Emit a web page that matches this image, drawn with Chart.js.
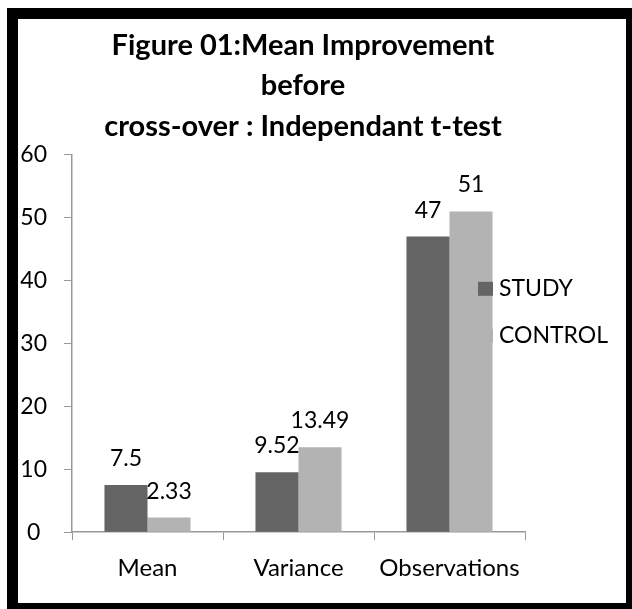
<!DOCTYPE html>
<html>
<head>
<meta charset="utf-8">
<script src="https://cdn.jsdelivr.net/npm/chart.js@4.4.0/dist/chart.umd.min.js"></script>
<style>
    html, body { margin: 0; padding: 0; background: #fff; overflow: hidden; }
    #frame {
        position: absolute; left: 7px; top: 8px;
        width: 608px; height: 584px;
        border: 11px solid #000;
        background: #fff;
    }
    #wrap { position: relative; width: 608px; height: 584px; }
</style>
</head>
<body>
<div id="frame"><div id="wrap"><canvas id="chart"></canvas></div></div>
<script>
// Chart data
const categories = ['Mean', 'Variance', 'Observations'];
const seriesNames = ['STUDY', 'CONTROL'];
const studyValues = [7.5, 9.52, 47];
const controlValues = [2.33, 13.49, 51];
const valueLabels = [['7.5', '9.52', '47'], ['2.33', '13.49', '51']];
const titleLines = ['Figure 01:Mean Improvement', 'before', 'cross-over : Independant t-test'];

const seriesColors = ['#646464', '#b3b3b3'];
const axisColor = '#999999';
const fontFamily = 'Lato, "Liberation Sans", sans-serif';

// Value labels above each bar
const valueLabelPlugin = {
    id: 'valueLabels',
    afterDatasetsDraw(chart) {
        const ctx = chart.ctx;
        ctx.save();
        ctx.font = '23px ' + fontFamily;
        ctx.fillStyle = '#000';
        ctx.textAlign = 'center';
        ctx.textBaseline = 'alphabetic';
        chart.data.datasets.forEach((ds, di) => {
            chart.getDatasetMeta(di).data.forEach((bar, i) => {
                ctx.fillText(valueLabels[di][i], bar.x, bar.y - 19);
            });
        });
        ctx.restore();
    }
};

// Legend drawn over the plot, like the original
const overlayLegend = {
    id: 'overlayLegend',
    afterDraw(chart) {
        const ctx = chart.ctx;
        const area = chart.chartArea;
        ctx.save();
        ctx.font = '23px ' + fontFamily;
        ctx.textBaseline = 'middle';
        ctx.textAlign = 'left';
        seriesNames.forEach((name, i) => {
            const y = area.top + 134 + i * 47;
            ctx.fillStyle = seriesColors[i];
            ctx.fillRect(area.right - 47, y - 7, 15, 14);
            ctx.fillStyle = '#000';
            ctx.fillText(name, area.right - 26, y);
        });
        ctx.restore();
    }
};

const ctx = document.getElementById('chart').getContext('2d');
new Chart(ctx, {
    type: 'bar',
    data: {
        labels: categories,
        datasets: [{
            label: seriesNames[0],
            data: studyValues,
            backgroundColor: seriesColors[0],
            categoryPercentage: 0.57,
            barPercentage: 1.0
        }, {
            label: seriesNames[1],
            data: controlValues,
            backgroundColor: seriesColors[1],
            categoryPercentage: 0.57,
            barPercentage: 1.0
        }]
    },
    options: {
        responsive: true,
        maintainAspectRatio: false,
        animation: false,
        layout: {
            padding: { left: 2, right: 40, top: 0, bottom: 6 }
        },
        plugins: {
            legend: { display: false },
            tooltip: { enabled: false },
            title: {
                display: true,
                text: titleLines,
                color: '#000',
                font: { family: fontFamily, size: 29, weight: 'bold', lineHeight: 1.4 },
                padding: { top: 6, bottom: 8 }
            }
        },
        scales: {
            x: {
                grid: {
                    drawOnChartArea: false,
                    offset: true,
                    tickLength: 8,
                    color: axisColor
                },
                border: { color: axisColor, width: 1.5 },
                ticks: {
                    color: '#000',
                    font: { family: fontFamily, size: 24 },
                    padding: 14
                }
            },
            y: {
                min: 0,
                max: 60,
                afterFit(scale) { scale.width = 52; },
                grid: {
                    drawOnChartArea: false,
                    tickLength: 8,
                    color: axisColor
                },
                border: { color: axisColor, width: 1.5 },
                ticks: {
                    stepSize: 10,
                    color: '#000',
                    crossAlign: 'center',
                    padding: 17,
                    font: { family: fontFamily, size: 23 }
                }
            },
            // empty right-hand space so the plot ends where the original does
            spacer: {
                type: 'linear',
                position: 'right',
                grid: { display: false },
                border: { display: false },
                ticks: { display: false },
                afterFit(scale) { scale.width = 61; }
            }
        }
    },
    plugins: [valueLabelPlugin, overlayLegend]
});
</script>
</body>
</html>
